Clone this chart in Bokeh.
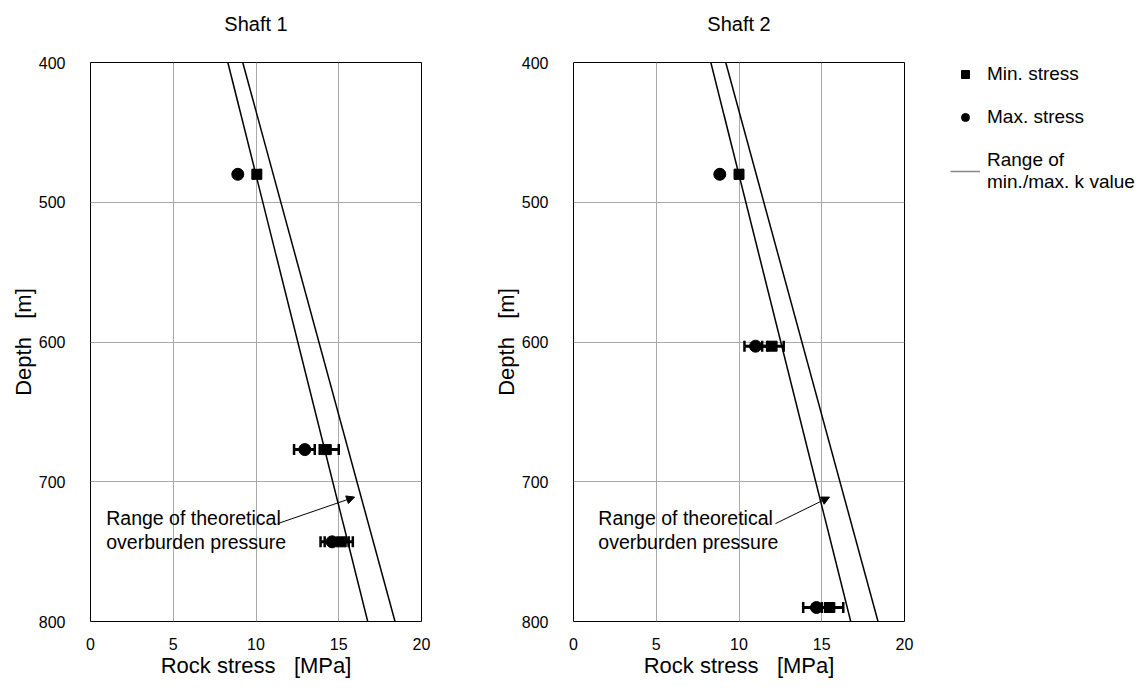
from bokeh.plotting import figure
from bokeh.layouts import row
from bokeh.models import (Range1d, FixedTicker, ColumnDataSource, Whisker, TeeHead,
                          Arrow, NormalHead, Legend, LegendItem)
from bokeh.core.properties import value
from bokeh.embed import file_html
from bokeh.resources import INLINE

FONT = "Liberation Sans"

# ---- data ----
x_ticks = [0, 5, 10, 15, 20]
y_ticks = [400, 500, 600, 700, 800]

# theoretical overburden pressure range (MPa) at depth 400 / 800 m
line_depth = [400, 800]
line_low = [8.3, 16.75]
line_high = [9.2, 18.4]

# Shaft 1
s1_depth = [480, 677, 743]
s1_max = [8.9, 12.95, 14.6]
s1_max_lo = [8.9, 12.3, 13.9]
s1_max_hi = [8.9, 13.55, 15.6]
s1_min = [10.05, 14.25, 15.15]
s1_min_lo = [9.85, 13.85, 14.15]
s1_min_hi = [10.25, 15.0, 15.85]

# Shaft 2
s2_depth = [480, 603, 790]
s2_max = [8.84, 11.0, 14.68]
s2_max_lo = [8.84, 10.33, 13.88]
s2_max_hi = [8.84, 11.7, 15.2]
s2_min = [10.0, 12.0, 15.49]
s2_min_lo = [9.8, 11.4, 15.0]
s2_min_hi = [10.2, 12.7, 16.3]

annot_lines = ["Range of theoretical", "overburden pressure"]
annot_depth = [726, 743]
s1_annot_x = 0.95
s2_annot_x = 1.5
s1_arrow = (11.3, 730, 15.96, 711)
s2_arrow = (12.2, 730, 15.47, 711)


def make_fig(title, depth, mx, mx_lo, mx_hi, mn, mn_lo, mn_hi, ax, arrow,
             left, right):
    # a blank second title line lifts the visible title away from the frame
    p = figure(title=title + "\n ", output_backend="svg", toolbar_location=None,
               frame_width=331, frame_height=559,
               min_border_left=left, min_border_right=right,
               min_border_top=62, min_border_bottom=72,
               x_range=Range1d(0, 20), y_range=Range1d(800, 400))
    p.title.align = "center"
    p.title.text_font = FONT
    p.title.text_font_size = "20px"
    p.title.text_font_style = "normal"
    p.title.text_color = "black"
    p.title.standoff = 12
    p.outline_line_color = "black"
    p.outline_line_width = 1
    p.background_fill_color = "white"
    p.border_fill_color = "white"

    p.xaxis.ticker = FixedTicker(ticks=x_ticks)
    p.yaxis.ticker = FixedTicker(ticks=y_ticks)
    for ax_ in (p.xaxis, p.yaxis):
        ax_.major_tick_line_color = None
        ax_.minor_tick_line_color = None
        ax_.axis_line_color = None
        ax_.major_label_text_font = FONT
        ax_.major_label_text_font_size = "16px"
        ax_.major_label_text_color = "black"
        ax_.axis_label_text_font = FONT
        ax_.axis_label_text_font_size = "22px"
        ax_.axis_label_text_font_style = "normal"
        ax_.axis_label_text_color = "black"
    p.xaxis.axis_label = "Rock stress \u00a0\u00a0[MPa]"
    p.yaxis.axis_label = "Depth \u00a0\u00a0[m]"
    p.xaxis.major_label_standoff = 10
    p.xaxis.axis_label_standoff = 0
    p.yaxis.major_label_standoff = 19
    p.yaxis.axis_label_standoff = 0
    p.xgrid.grid_line_color = "#aaaaaa"
    p.ygrid.grid_line_color = "#aaaaaa"

    # overburden lines
    p.line(line_low, line_depth, line_color="black", line_width=1.5)
    p.line(line_high, line_depth, line_color="black", line_width=1.5)

    src = ColumnDataSource(dict(depth=depth, mx=mx, mx_lo=mx_lo, mx_hi=mx_hi,
                                mn=mn, mn_lo=mn_lo, mn_hi=mn_hi))
    # thin grey stems, hidden beneath the thick ones (used for the legend)
    rng = p.segment(x0="mx_lo", x1="mx_hi", y0="depth", y1="depth", source=src,
                    line_color="#888888", line_width=1.5)
    p.segment(x0="mx_lo", x1="mx_hi", y0="depth", y1="depth", source=src,
              line_color="black", line_width=3)
    p.segment(x0="mn_lo", x1="mn_hi", y0="depth", y1="depth", source=src,
              line_color="black", line_width=3)
    for lo, hi in (("mx_lo", "mx_hi"), ("mn_lo", "mn_hi")):
        w = Whisker(base="depth", lower=lo, upper=hi, dimension="width",
                    source=src, line_alpha=0,
                    lower_head=TeeHead(size=11, line_width=2.5, line_color="black"),
                    upper_head=TeeHead(size=11, line_width=2.5, line_color="black"))
        p.add_layout(w)
    # small markers hidden beneath the large ones (used for the legend)
    mn_r = p.scatter(x="mn", y="depth", source=src, marker="square", size=8,
                     fill_color="black", line_color="black")
    mx_r = p.scatter(x="mx", y="depth", source=src, marker="circle", size=8,
                     fill_color="black", line_color="black")
    p.scatter(x="mn", y="depth", source=src, marker="square", size=10,
              fill_color="black", line_color="black")
    p.scatter(x="mx", y="depth", source=src, marker="circle", size=12,
              fill_color="black", line_color="black")

    p.text(x=[ax, ax], y=annot_depth, text=annot_lines,
           text_font=value(FONT), text_font_size="19.5px", text_color="black",
           text_baseline="middle", text_align="left")
    p.add_layout(Arrow(x_start=arrow[0], y_start=arrow[1], x_end=arrow[2],
                       y_end=arrow[3], line_color="black", line_width=1,
                       end=NormalHead(size=8, fill_color="black",
                                      line_color="black")))
    return p, mn_r, mx_r, rng


p1, _, _, _ = make_fig("Shaft 1", s1_depth, s1_max, s1_max_lo, s1_max_hi,
                       s1_min, s1_min_lo, s1_min_hi, s1_annot_x, s1_arrow,
                       left=90, right=11)
p2, mn_r, mx_r, rng = make_fig("Shaft 2", s2_depth, s2_max, s2_max_lo, s2_max_hi,
                               s2_min, s2_min_lo, s2_min_hi, s2_annot_x, s2_arrow,
                               left=141, right=234)

legend = Legend(items=[
    LegendItem(label="Min. stress", renderers=[mn_r]),
    LegendItem(label="Max. stress", renderers=[mx_r]),
    LegendItem(label="Range of\nmin./max. k value", renderers=[rng]),
], location=(46, 428))
legend.border_line_color = None
legend.background_fill_alpha = 0
legend.label_text_font = FONT
legend.label_text_font_size = "19px"
legend.label_text_color = "black"
legend.glyph_width = 30
legend.glyph_height = 20
legend.spacing = 21
legend.margin = 0
legend.padding = 4
legend.label_standoff = 7
p2.add_layout(legend, "right")

layout = row(p1, p2)
open("out.html", "w").write(file_html(layout, INLINE))
